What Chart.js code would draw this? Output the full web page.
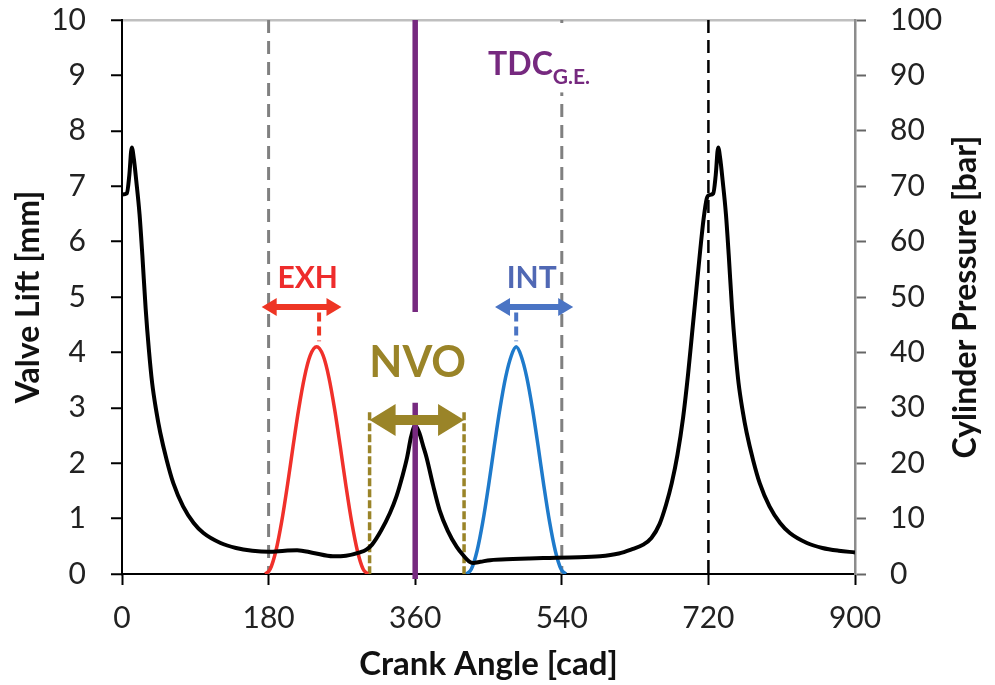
<!DOCTYPE html>
<html>
<head>
<meta charset="utf-8">
<script src="https://cdn.jsdelivr.net/npm/chart.js@4.4.1/dist/chart.umd.min.js"></script>
<style>
  html, body { margin: 0; padding: 0; background: #fff; }
  #wrap { width: 995px; height: 685px; }
</style>
</head>
<body>
<div id="wrap"><canvas id="valveChart" width="995" height="685"></canvas></div>
<script>
// cylinder pressure trace (crank angle in cad, pressure in bar)
const pressureCad = [0, 6, 9, 12, 14.5, 17.5, 21.5, 25, 29, 33, 37, 42, 47, 55, 63, 75, 88, 100, 121, 140, 160,
  180, 200, 215, 235, 259, 275, 292, 300, 307, 318, 329, 337, 344, 350, 355, 360, 365, 370, 374, 382, 390, 400, 411,
  420, 426, 431, 440, 452, 480, 500, 525, 550, 587, 610, 625, 640, 650, 660, 668, 675, 682, 689, 695, 700, 705, 710,
  714, 718, 721, 726, 729, 732, 734.5, 737.5, 741.5, 745, 749, 753, 757, 762, 767, 775, 783, 795, 808, 820, 841,
  860, 880, 900];
const pressureBar = [68.5, 68.7, 72, 77, 75, 71, 65, 57.5, 48, 40.5, 34.5, 29.5, 25.5, 20.5, 16.4, 12.2, 9.2, 7.4, 5.6, 4.7, 4.2,
  4.0, 4.2, 4.3, 3.8, 3.2, 3.3, 3.9, 4.4, 5.3, 7.8, 11, 14, 17.5, 21, 24.8, 26.8, 25.5, 23, 21, 16, 11.5, 7.8, 4.9,
  3.2, 2.3, 2.0, 2.2, 2.5, 2.7, 2.8, 2.9, 3.0, 3.2, 3.7, 4.4, 5.3, 6.5, 9.0, 12.5, 16.4, 21.5, 28.3, 36, 43.5, 51, 58.5,
  64, 67.8, 68.4, 68.7, 72, 77, 75, 71, 65, 57.5, 48, 40.5, 34.5, 29.5, 25.5, 20.5, 16.4, 12.2, 9.2, 7.4, 5.6,
  4.7, 4.2, 3.9];

// exhaust valve lift (mm)
const exhCad = [176, 182, 189, 196, 203, 210, 217, 224, 231, 239, 247, 254, 261, 268, 275, 282, 289, 296, 302];
const exhLift = [0, 0.09, 0.42, 0.94, 1.59, 2.3, 2.98, 3.55, 3.94, 4.1, 3.94, 3.55, 2.98, 2.3, 1.59, 0.94, 0.42, 0.09, 0];

// intake valve lift (mm)
const intCad = [423, 429, 436, 443, 450, 457, 464, 471, 478, 484, 490, 497, 504, 511, 518, 525, 532, 539, 545];
const intLift = [0, 0.09, 0.42, 0.94, 1.59, 2.3, 2.98, 3.55, 3.94, 4.1, 3.94, 3.55, 2.98, 2.3, 1.59, 0.94, 0.42, 0.09, 0];

const xTicks = [0, 180, 360, 540, 720, 900];
const greyMarkers = [180, 540];
const blackMarkers = [720];
const nvoWindow = [304, 420];
const tdcGE = 360;

const GOLD = '#9a8428';
const PURPLE = '#76297f';

function toPoints(xs, ys) {
  return xs.map((x, i) => ({ x: x, y: ys[i] }));
}

function vline(ctx, x, y1, y2) {
  ctx.beginPath();
  ctx.moveTo(x, y1);
  ctx.lineTo(x, y2);
  ctx.stroke();
}

function dblArrow(ctx, x1, x2, y, shaft, headLen, headHalf, color) {
  ctx.fillStyle = color;
  ctx.beginPath();
  ctx.moveTo(x1, y);
  ctx.lineTo(x1 + headLen, y - headHalf);
  ctx.lineTo(x1 + headLen, y - shaft / 2);
  ctx.lineTo(x2 - headLen, y - shaft / 2);
  ctx.lineTo(x2 - headLen, y - headHalf);
  ctx.lineTo(x2, y);
  ctx.lineTo(x2 - headLen, y + headHalf);
  ctx.lineTo(x2 - headLen, y + shaft / 2);
  ctx.lineTo(x1 + headLen, y + shaft / 2);
  ctx.lineTo(x1 + headLen, y + headHalf);
  ctx.closePath();
  ctx.fill();
}

// fixed box sizes so the plot area sits where the original one does
function fixVertical(width) {
  return s => {
    s.width = width;
    s.paddingTop = 0;
    s.paddingBottom = 0;
  };
}

const markup = {
  id: 'markup',
  beforeDatasetsDraw(chart) {
    const { ctx, chartArea: a, scales: { x, y } } = chart;
    ctx.save();
    ctx.lineWidth = 3;
    ctx.strokeStyle = '#808080';
    ctx.setLineDash([13, 8]);
    greyMarkers.forEach(v => vline(ctx, x.getPixelForValue(v), a.top, a.bottom));
    ctx.lineWidth = 2.5;
    ctx.strokeStyle = '#000';
    ctx.setLineDash([13, 7]);
    blackMarkers.forEach(v => vline(ctx, x.getPixelForValue(v), a.top, a.bottom));
    ctx.lineWidth = 3.5;
    ctx.strokeStyle = GOLD;
    ctx.setLineDash([8, 3]);
    nvoWindow.forEach(v => vline(ctx, x.getPixelForValue(v), y.getPixelForValue(2.92), a.bottom));
    ctx.restore();
  },
  afterDatasetsDraw(chart) {
    const { ctx, chartArea: a, scales: { x, y } } = chart;
    ctx.save();

    // TDC of gas exchange
    ctx.lineWidth = 5.5;
    ctx.strokeStyle = PURPLE;
    const xt = x.getPixelForValue(tdcGE);
    vline(ctx, xt, a.top, y.getPixelForValue(4.73));
    vline(ctx, xt, y.getPixelForValue(3.09), a.bottom + 5);

    // EXH / INT markers
    ctx.setLineDash([9, 5]);
    ctx.lineWidth = 4;
    ctx.strokeStyle = '#ee3524';
    vline(ctx, x.getPixelForValue(242), y.getPixelForValue(4.72), y.getPixelForValue(4.2));
    ctx.strokeStyle = '#4a74c4';
    vline(ctx, x.getPixelForValue(484), y.getPixelForValue(4.72), y.getPixelForValue(4.2));
    ctx.setLineDash([]);
    dblArrow(ctx, x.getPixelForValue(171.5), x.getPixelForValue(269.5), y.getPixelForValue(4.82), 6, 15, 9, '#ee3524');
    dblArrow(ctx, x.getPixelForValue(458), x.getPixelForValue(554), y.getPixelForValue(4.82), 6, 15, 9, '#4a74c4');

    ctx.textAlign = 'center';
    ctx.textBaseline = 'alphabetic';
    ctx.font = 'bold 30px Lato';
    ctx.fillStyle = '#ee2c2c';
    ctx.fillText('EXH', x.getPixelForValue(228), y.getPixelForValue(5.16));
    ctx.fillStyle = '#5068b4';
    ctx.fillText('INT', x.getPixelForValue(503), y.getPixelForValue(5.16));

    // NVO
    ctx.font = 'bold 43px Lato';
    ctx.fillStyle = GOLD;
    ctx.fillText('NVO', x.getPixelForValue(363), y.getPixelForValue(3.56));
    dblArrow(ctx, x.getPixelForValue(nvoWindow[0]), x.getPixelForValue(nvoWindow[1]), y.getPixelForValue(2.78), 10, 26, 16, GOLD);

    // TDC G.E. label with white backing
    const tx = x.getPixelForValue(449.5);
    const ty = y.getPixelForValue(9.0);
    ctx.textAlign = 'left';
    ctx.font = 'bold 32px Lato';
    const w1 = ctx.measureText('TDC').width;
    ctx.font = 'bold 21px Lato';
    const w2 = ctx.measureText('G.E.').width;
    ctx.fillStyle = '#fff';
    ctx.fillRect(tx - 4, a.top + 3, w1 + w2 + 10, ty - a.top + 14);
    ctx.fillStyle = PURPLE;
    ctx.font = 'bold 32px Lato';
    ctx.fillText('TDC', tx, ty);
    ctx.font = 'bold 21px Lato';
    ctx.fillText('G.E.', tx + w1, ty + 9);

    ctx.restore();
  },
  afterDraw(chart) {
    const { ctx, chartArea: a } = chart;
    ctx.save();
    ctx.translate(966, (a.top + a.bottom) / 2);
    ctx.rotate(-Math.PI / 2);
    ctx.textAlign = 'center';
    ctx.textBaseline = 'middle';
    ctx.font = 'bold 32px Lato';
    ctx.fillStyle = '#111';
    ctx.fillText('Cylinder Pressure [bar]', 0, 0);
    ctx.restore();
  }
};

function build() {
  Chart.defaults.font.family = 'Lato';
  Chart.defaults.color = '#222';

  new Chart(document.getElementById('valveChart'), {
    type: 'line',
    data: {
      datasets: [
        {
          label: 'Cylinder Pressure',
          data: toPoints(pressureCad, pressureBar),
          yAxisID: 'y1',
          borderColor: '#000',
          borderWidth: 4,
          cubicInterpolationMode: 'monotone'
        },
        {
          label: 'EXH',
          data: toPoints(exhCad, exhLift),
          yAxisID: 'y',
          borderColor: '#f0302a',
          borderWidth: 3.5,
          cubicInterpolationMode: 'monotone'
        },
        {
          label: 'INT',
          data: toPoints(intCad, intLift),
          yAxisID: 'y',
          borderColor: '#1e7acb',
          borderWidth: 3.5,
          cubicInterpolationMode: 'monotone'
        }
      ]
    },
    options: {
      responsive: false,
      animation: false,
      layout: { padding: { top: 20, left: 0, right: 0, bottom: 0 } },
      elements: { point: { radius: 0 } },
      plugins: { legend: { display: false }, tooltip: { enabled: false } },
      scales: {
        x: {
          type: 'linear',
          min: 0,
          max: 900,
          afterBuildTicks: s => { s.ticks = xTicks.map(v => ({ value: v })); },
          grid: { drawOnChartArea: false, tickLength: 11, tickColor: '#000', tickWidth: 2 },
          border: { color: '#000', width: 2 },
          ticks: { padding: 15, font: { size: 30 }, maxRotation: 0 },
          title: { display: true, text: 'Crank Angle [cad]', color: '#111', font: { size: 33, weight: 'bold' }, padding: { top: 0, bottom: 1 } },
          afterFit: s => { s.height = 111; s.paddingLeft = 0; s.paddingRight = 0; }
        },
        y: {
          position: 'left',
          min: 0,
          max: 10,
          ticks: { stepSize: 1, padding: 25, font: { size: 30 } },
          grid: {
            color: c => (c.tick && c.tick.value === 10 ? '#bfbfbf' : 'rgba(0,0,0,0)'),
            lineWidth: 2.5,
            tickLength: 11,
            tickColor: '#000',
            tickWidth: 2
          },
          border: { color: '#000', width: 2 },
          title: { display: true, text: 'Valve Lift [mm]', color: '#111', font: { size: 32, weight: 'bold' }, padding: { top: 9 } },
          afterFit: fixVertical(122)
        },
        y1: {
          position: 'right',
          min: 0,
          max: 100,
          ticks: { stepSize: 10, padding: 24, font: { size: 30 } },
          grid: { drawOnChartArea: false, tickLength: 11, tickColor: '#666', tickWidth: 2 },
          border: { color: '#8c8c8c', width: 2.5 },
          afterFit: fixVertical(140)
        }
      }
    },
    plugins: [markup]
  });
}

Promise.all([
  document.fonts.load('30px Lato'),
  document.fonts.load('bold 30px Lato')
]).then(build, build);
</script>
</body>
</html>
